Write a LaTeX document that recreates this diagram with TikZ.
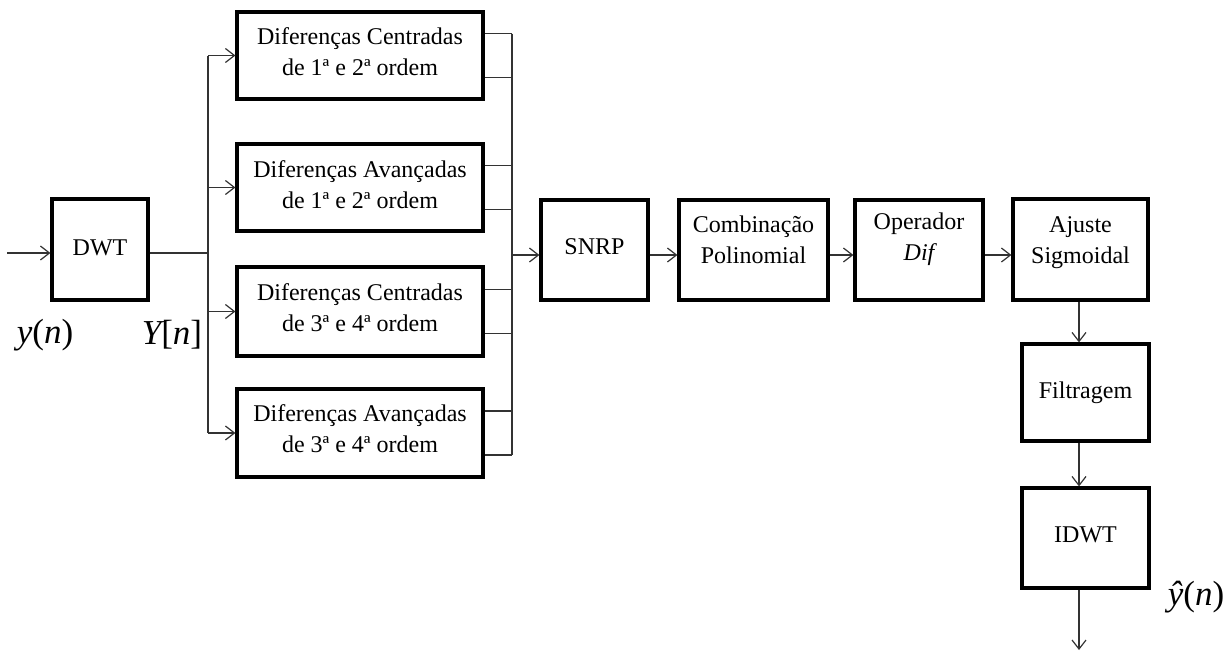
\documentclass[tikz,border=0pt]{standalone}
\usepackage{fontspec}
\setmainfont{Liberation Serif}
\usetikzlibrary{arrows.meta}
\begin{document}
\begin{tikzpicture}[x=1pt,y=-1pt,
  blk/.style={draw=black, line width=3.2pt, inner sep=0pt, fill=white},
  txt/.style={font=\fontsize{24}{31}\selectfont, align=center, inner sep=0pt, text=black},
  mlab/.style={font=\fontsize{35}{40}\selectfont, inner sep=0pt, text=black},
  conn/.style={line width=1.2pt, draw=black!80},
  arr/.style={conn, -{Straight Barb[length=9pt,width=14pt]}}
]
\useasboundingbox (0,0) rectangle (1225,653);

% boxes
\node[blk, minimum width=96pt, minimum height=101pt] (dwt) at (100,249.5) {};
\node[blk, minimum width=246pt, minimum height=87pt] (d1) at (360,55.5) {};
\node[blk, minimum width=246pt, minimum height=87pt] (d2) at (360,187.5) {};
\node[blk, minimum width=246pt, minimum height=89pt] (d3) at (360,311.5) {};
\node[blk, minimum width=246pt, minimum height=88pt] (d4) at (360,433) {};
\node[blk, minimum width=107pt, minimum height=100pt] (snrp) at (594.5,250) {};
\node[blk, minimum width=149pt, minimum height=100pt] (comb) at (753.5,250) {};
\node[blk, minimum width=128pt, minimum height=100pt] (op) at (919,250) {};
\node[blk, minimum width=135pt, minimum height=101pt] (aj) at (1080.5,249.5) {};
\node[blk, minimum width=127pt, minimum height=97pt] (filt) at (1085.5,392.5) {};
\node[blk, minimum width=127pt, minimum height=100pt] (idwt) at (1085.5,538) {};

% texts
\node[txt] (tdwt) at ([yshift=2pt]dwt.center) {DWT};
\node[txt] (td1) at ([yshift=4pt]d1.center) {Diferenças Centradas\\de 1ª e 2ª ordem};
\node[txt] (td2) at ([yshift=3pt]d2.center) {Diferenças Avançadas\\de 1ª e 2ª ordem};
\node[txt] (td3) at ([yshift=4pt]d3.center) {Diferenças Centradas\\de 3ª e 4ª ordem};
\node[txt] (td4) at ([yshift=4pt]d4.center) {Diferenças Avançadas\\de 3ª e 4ª ordem};
\node[txt] (tsnrp) at ([yshift=3pt]snrp.center) {SNRP};
\node[txt] (tcomb) at ([yshift=10pt]comb.center) {Combinação\\Polinomial};
\node[txt] (top) at ([yshift=11pt]op.center) {Operador\\{\itshape Dif}};
\node[txt] (taj) at ([yshift=7pt]aj.center) {Ajuste\\Sigmoidal};
\node[txt] (tfilt) at (filt.center) {Filtragem};
\node[txt] (tidwt) at ([yshift=3pt]idwt.center) {IDWT};

% signal labels
\node[mlab] (yn) at (45,335) {{\itshape y}({\itshape n})};
\node[mlab] (Yn) at (172,335) {{\itshape Y}[{\itshape n}]};
\node[mlab] (yhat) at (1196,597) {{\itshape ŷ}({\itshape n})};

% coordinates
\coordinate (in) at (7,253);
\coordinate (busL) at (208,253);
\coordinate (busR) at (512,255);
\coordinate (vx) at (1079,0);
\coordinate (out) at (1079,650);

% input side
\draw[arr] (in) -- (in -| dwt.west);
\draw[conn] (in -| dwt.east) -- (busL);
\draw[conn] (busL |- d1.west) -- (busL |- d4.west);
\foreach \b in {d1,d2,d3,d4}{
  \draw[arr] (busL |- \b.west) -- (\b.west);
}

% output bus
\foreach \b in {d1,d2,d3,d4}{
  \draw[conn] ([yshift=22pt]\b.east) -- ([yshift=22pt]\b.east -| busR);
  \draw[conn] ([yshift=-22pt]\b.east) -- ([yshift=-22pt]\b.east -| busR);
}
\draw[conn] ([yshift=22pt]d1.east -| busR) -- ([yshift=-22pt]d4.east -| busR);
\draw[arr] (busR) -- (busR -| snrp.west);

% chain
\draw[arr] (snrp.east |- busR) -- (comb.west |- busR);
\draw[arr] (comb.east |- busR) -- (op.west |- busR);
\draw[arr] (op.east |- busR) -- (aj.west |- busR);
\draw[arr] (aj.south -| vx) -- (filt.north -| vx);
\draw[arr] (filt.south -| vx) -- (idwt.north -| vx);
\draw[arr] (idwt.south -| vx) -- (out);
\end{tikzpicture}
\end{document}
